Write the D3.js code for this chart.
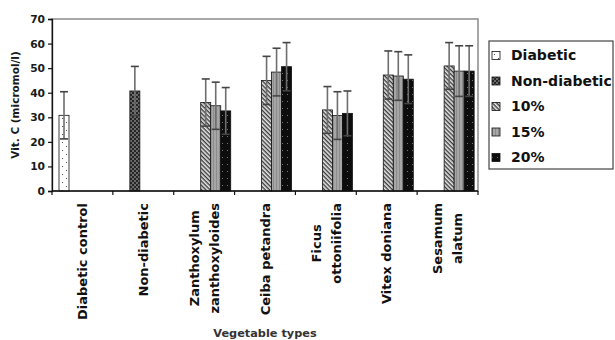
<!DOCTYPE html>
<html>
<head>
<meta charset="utf-8">
<script src="https://cdn.jsdelivr.net/npm/d3@7"></script>
<style>
  html, body { margin: 0; padding: 0; background: #fff; }
  svg { display: block; font-family: "DejaVu Sans", sans-serif; font-weight: bold; }
</style>
</head>
<body>
<svg id="chart" width="615" height="340"></svg>
<script>
// Vitamin C levels by vegetable type and dose
const categories = [
  ["Diabetic control"],
  ["Non-diabetic"],
  ["Zanthoxylum", "zanthoxyloides"],
  ["Ceiba petandra"],
  ["Ficus", "ottoniifolia"],
  ["Vitex doniana"],
  ["Sesamum", "alatum"]
];
const seriesNames = ["Diabetic", "Non-diabetic", "10%", "15%", "20%"];
// null = no bar for that series in that category
const diabetic    = [30.8, null, null, null, null, null, null];
const nonDiabetic = [null, 40.7, null, null, null, null, null];
const dose10      = [null, null, 36.0, 45.0, 33.0, 47.2, 50.9];
const dose15      = [null, null, 34.7, 48.4, 30.7, 46.8, 48.8];
const dose20      = [null, null, 32.6, 50.6, 31.6, 45.5, 48.8];
const errDiabetic    = [9.6, null, null, null, null, null, null];
const errNonDiabetic = [null, 10.0, null, null, null, null, null];
const err10          = [null, null, 9.6, 9.8, 9.5, 9.8, 9.5];
const err15          = [null, null, 9.6, 9.7, 9.7, 9.9, 10.3];
const err20          = [null, null, 9.5, 9.8, 9.1, 9.9, 10.3];
const yTicks = [0, 10, 20, 30, 40, 50, 60, 70];
const yLabel = "Vit. C (micromol/l)";
const xLabel = "Vegetable types";

const seriesValues = [diabetic, nonDiabetic, dose10, dose15, dose20];
const seriesErrors = [errDiabetic, errNonDiabetic, err10, err15, err20];
const patternIds = ["pDiab", "pNonDiab", "p10", "p15", "p20"];

const svg = d3.select("#chart");
const plot = { left: 52, right: 478, top: 19, bottom: 191 };

// ---- fill patterns ----
const defs = svg.append("defs");
{
  const p = defs.append("pattern").attr("id", "pDiab").attr("patternUnits", "userSpaceOnUse")
    .attr("width", 8).attr("height", 8);
  p.append("rect").attr("width", 8).attr("height", 8).attr("fill", "#fff");
  p.append("rect").attr("x", 2).attr("y", 2).attr("width", 1).attr("height", 1).attr("fill", "#555");
  p.append("rect").attr("x", 6).attr("y", 6).attr("width", 1).attr("height", 1).attr("fill", "#555");
}
{
  const p = defs.append("pattern").attr("id", "pNonDiab").attr("patternUnits", "userSpaceOnUse")
    .attr("width", 4).attr("height", 4);
  p.append("rect").attr("width", 4).attr("height", 4).attr("fill", "#6a6a6a");
  p.append("rect").attr("width", 2).attr("height", 2).attr("fill", "#262626");
  p.append("rect").attr("x", 2).attr("y", 2).attr("width", 2).attr("height", 2).attr("fill", "#262626");
}
{
  const p = defs.append("pattern").attr("id", "p10").attr("patternUnits", "userSpaceOnUse")
    .attr("width", 3).attr("height", 3).attr("patternTransform", "rotate(45)");
  p.append("rect").attr("width", 3).attr("height", 3).attr("fill", "#e8e8e8");
  p.append("rect").attr("width", 3).attr("height", 1.4).attr("fill", "#3a3a3a");
}
{
  const p = defs.append("pattern").attr("id", "p15").attr("patternUnits", "userSpaceOnUse")
    .attr("width", 3).attr("height", 3);
  p.append("rect").attr("width", 3).attr("height", 3).attr("fill", "#a6a6a6");
  p.append("rect").attr("width", 1).attr("height", 3).attr("fill", "#8c8c8c");
}
{
  const p = defs.append("pattern").attr("id", "p20").attr("patternUnits", "userSpaceOnUse")
    .attr("width", 5).attr("height", 7);
  p.append("rect").attr("width", 5).attr("height", 7).attr("fill", "#0d0d0d");
  p.append("rect").attr("x", 2).attr("y", 3).attr("width", 1).attr("height", 1).attr("fill", "#777");
}

// ---- scales ----
const x = d3.scaleBand().domain(d3.range(categories.length))
  .range([plot.left, plot.right]).padding(0);
const inner = d3.scaleBand().domain(d3.range(seriesNames.length))
  .range([7, 57]).padding(0);
const y = d3.scaleLinear().domain([0, 70]).range([plot.bottom, plot.top]);

// plot area frame
svg.append("rect")
  .attr("x", plot.left).attr("y", plot.top)
  .attr("width", plot.right - plot.left).attr("height", plot.bottom - plot.top)
  .attr("fill", "#fff").attr("stroke", "#8a8a8a").attr("stroke-width", 1.5);

// ---- bars ----
const barData = [];
seriesValues.forEach((vals, s) => {
  vals.forEach((v, c) => {
    if (v !== null) barData.push({ s, c, v, e: seriesErrors[s][c] });
  });
});

svg.append("g").selectAll("rect").data(barData).join("rect")
  .attr("x", d => x(d.c) + inner(d.s))
  .attr("y", d => y(d.v))
  .attr("width", inner.bandwidth())
  .attr("height", d => y(0) - y(d.v))
  .attr("fill", d => `url(#${patternIds[d.s]})`)
  .attr("stroke", "#111").attr("stroke-width", 0.8);

// ---- error bars (symmetric) ----
const eg = svg.append("g");
const capHalf = 4;
barData.forEach(d => {
  const cx = x(d.c) + inner(d.s) + inner.bandwidth() / 2;
  const yHi = y(d.v + d.e), yLo = y(d.v - d.e);
  eg.append("line").attr("x1", cx).attr("x2", cx).attr("y1", yHi).attr("y2", yLo)
    .attr("stroke", "#6e6e6e").attr("stroke-width", 1.6);
  [yHi, yLo].forEach(yy => {
    eg.append("line").attr("x1", cx - capHalf).attr("x2", cx + capHalf)
      .attr("y1", yy).attr("y2", yy)
      .attr("stroke", "#444").attr("stroke-width", 1.6);
  });
});

// ---- axes ----
const yAxis = svg.append("g").attr("transform", `translate(${plot.left},0)`)
  .call(d3.axisLeft(y).tickValues(yTicks).tickSize(4).tickPadding(3).tickFormat(d3.format("d")));
yAxis.select(".domain").attr("stroke", "#111").attr("stroke-width", 1.3);
yAxis.selectAll(".tick line").attr("stroke", "#111").attr("stroke-width", 1.2);
yAxis.selectAll(".tick text")
  .attr("font-family", "DejaVu Sans").attr("font-weight", "bold")
  .attr("font-size", 10.7).attr("fill", "#1a1a1a");

const xAxis = svg.append("g").attr("transform", `translate(0,${plot.bottom})`);
xAxis.append("line").attr("x1", plot.left).attr("x2", plot.right)
  .attr("stroke", "#111").attr("stroke-width", 1.3);
xAxis.selectAll("line.tk").data(d3.range(categories.length + 1)).join("line")
  .attr("class", "tk")
  .attr("x1", i => i < categories.length ? x(i) : plot.right)
  .attr("x2", i => i < categories.length ? x(i) : plot.right)
  .attr("y1", 0).attr("y2", 4)
  .attr("stroke", "#111").attr("stroke-width", 1.2);

// category labels, rotated, lines centred on each other, top-aligned
const lineGap = 20;
categories.forEach((lines, c) => {
  const cx = x(c) + x.bandwidth() / 2;
  const g = svg.append("g").attr("transform", `translate(${cx},203) rotate(-90)`);
  const texts = lines.map((ln, i) => g.append("text")
    .attr("y", (i - (lines.length - 1) / 2) * lineGap)
    .attr("dy", "0.36em")
    .attr("text-anchor", "middle")
    .attr("font-size", 13).attr("fill", "#111")
    .text(ln));
  const w = d3.max(texts, t => t.node().getComputedTextLength());
  texts.forEach(t => t.attr("x", -w / 2));
});

// axis titles
svg.append("text")
  .attr("transform", `translate(15,${(plot.top + plot.bottom) / 2}) rotate(-90)`)
  .attr("text-anchor", "middle").attr("dy", "0.36em")
  .attr("font-size", 10.5).attr("fill", "#1a1a1a")
  .text(yLabel);
svg.append("text")
  .attr("x", (plot.left + plot.right) / 2).attr("y", 336.5)
  .attr("text-anchor", "middle")
  .attr("font-size", 11.3).attr("fill", "#333")
  .text(xLabel);

// ---- legend ----
const lg = svg.append("g");
lg.append("rect").attr("x", 489).attr("y", 41).attr("width", 124).attr("height", 128)
  .attr("fill", "#fff").attr("stroke", "#444").attr("stroke-width", 1.2);
seriesNames.forEach((name, i) => {
  const base = 60 + i * 25.5;
  lg.append("rect").attr("x", 492).attr("y", base - 8.5).attr("width", 8).attr("height", 8)
    .attr("fill", `url(#${patternIds[i]})`).attr("stroke", "#111").attr("stroke-width", 0.8);
  lg.append("text").attr("x", 511).attr("y", base)
    .attr("font-size", 14).attr("fill", "#111")
    .text(name);
});
</script>
</body>
</html>
